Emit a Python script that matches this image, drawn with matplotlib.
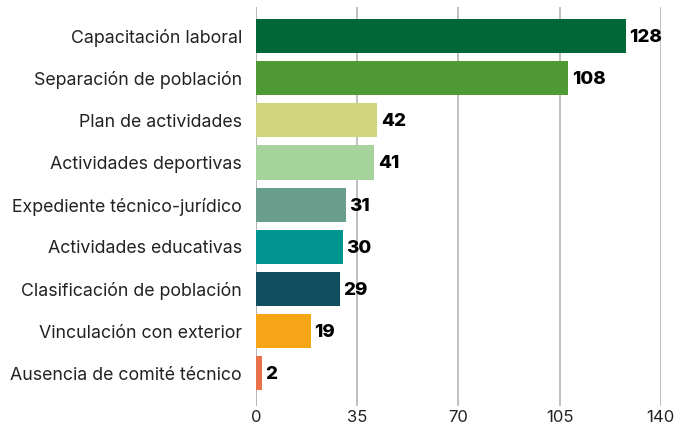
import matplotlib
matplotlib.use("Agg")
import matplotlib.pyplot as plt

categories = [
    "Capacitación laboral",
    "Separación de población",
    "Plan de actividades",
    "Actividades deportivas",
    "Expediente técnico-jurídico",
    "Actividades educativas",
    "Clasificación de población",
    "Vinculación con exterior",
    "Ausencia de comité técnico",
]
values = [128, 108, 42, 41, 31, 30, 29, 19, 2]
colors = ["#006635", "#4f9a34", "#d0d57e", "#a5d39b", "#6a9e8d",
          "#00968f", "#114e5e", "#f5a515", "#e8714b"]
xticks = [0, 35, 70, 105, 140]

plt.rcParams["font.family"] = ["Inter", "DejaVu Sans"]

fig = plt.figure(figsize=(6.75, 4.28), dpi=100)
ax = fig.add_axes([0.379, 0.051, 0.6, 0.933])

ypos = list(range(len(categories)))
ax.barh(ypos, values, height=0.81, color=colors, zorder=2)
for y, v in zip(ypos, values):
    ax.annotate(str(v), (v, y), xytext=(2.5, -1), textcoords="offset points",
                va="center", ha="left", fontsize=13.5, fontweight="heavy", color="black")

ax.set_yticks(ypos)
ax.set_yticklabels(categories, fontsize=12.8, color="#222222")
ax.set_ylim(len(categories) - 1 + 0.78, -0.69)
ax.set_xlim(0, 140)
ax.set_xticks(xticks)
ax.set_xticklabels([str(t) for t in xticks], fontsize=12, color="#222222")
ax.tick_params(axis="both", length=0)
ax.tick_params(axis="y", pad=10)
ax.tick_params(axis="x", pad=3)
ax.xaxis.grid(True, color="#b5b5b5", linewidth=1.2, zorder=0)
for s in ax.spines.values():
    s.set_visible(False)
ax.axvline(0, color="#b5b5b5", linewidth=1.2, zorder=1)

plt.savefig("out.png", dpi=100)
